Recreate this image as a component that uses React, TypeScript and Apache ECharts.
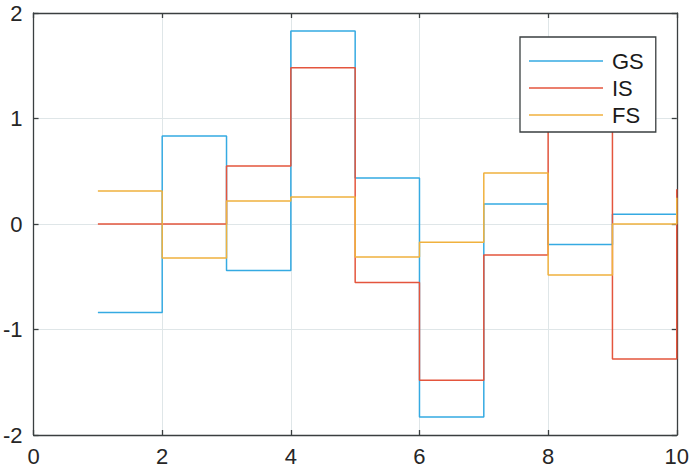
import React, { useEffect, useRef } from "react";
import * as echarts from "echarts";

const xs = [1, 2, 3, 4, 5, 6, 7, 8, 9, 10];
const gsValues = [-0.84, 0.835, -0.44, 1.83, 0.435, -1.83, 0.19, -0.195, 0.092, 0.092];
const isValues = [0.0, 0.0, 0.55, 1.48, -0.555, -1.48, -0.295, 1.28, -1.28, 0.33];
const fsValues = [0.313, -0.322, 0.218, 0.256, -0.313, -0.174, 0.483, -0.483, 0.0, 0.25];
const seriesNames = ["GS", "IS", "FS"];
const seriesColors = ["#35AAE2", "#E4553D", "#F0B13E"];
const xTicks = [0, 2, 4, 6, 8, 10];
const yTicks = [-2, -1, 0, 1, 2];

const FONT = "'Liberation Sans', Arial, Helvetica, sans-serif";
const AXIS_COLOR = "#3a3f40";
const GRID_COLOR = "#dfe6e8";

export default function App() {
  const ref = useRef<HTMLDivElement>(null);
  useEffect(() => {
    if (!ref.current) return;
    const chart = echarts.init(ref.current, null, { renderer: "svg" });
    const all = [gsValues, isValues, fsValues];
    const baseAxis = {
      type: "value" as const,
      axisLine: { show: true, onZero: false, lineStyle: { color: AXIS_COLOR, width: 1.3 } },
      axisTick: { show: true, inside: true, length: 5, lineStyle: { color: AXIS_COLOR, width: 1.3 } },
    };
    chart.setOption({
      animation: false,
      backgroundColor: "#ffffff",
      grid: { left: 33, right: 13, top: 13, bottom: 35, containLabel: false },
      xAxis: [
        {
          ...baseAxis,
          position: "bottom",
          min: xTicks[0],
          max: xTicks[xTicks.length - 1],
          interval: 2,
          axisLabel: { show: true, color: "#262626", fontSize: 22, fontFamily: FONT, margin: 10 },
          splitLine: { show: true, lineStyle: { color: GRID_COLOR, width: 1 } },
        },
        {
          ...baseAxis,
          position: "top",
          min: xTicks[0],
          max: xTicks[xTicks.length - 1],
          interval: 2,
          axisLabel: { show: false },
          splitLine: { show: false },
        },
      ],
      yAxis: [
        {
          ...baseAxis,
          position: "left",
          min: yTicks[0],
          max: yTicks[yTicks.length - 1],
          interval: 1,
          axisLabel: { show: true, color: "#262626", fontSize: 22, fontFamily: FONT, margin: 11 },
          splitLine: { show: true, lineStyle: { color: GRID_COLOR, width: 1 } },
        },
        {
          ...baseAxis,
          position: "right",
          min: yTicks[0],
          max: yTicks[yTicks.length - 1],
          interval: 1,
          axisLabel: { show: false },
          splitLine: { show: false },
        },
      ],
      legend: {
        show: true,
        orient: "vertical",
        left: 520,
        top: 37,
        width: 134,
        backgroundColor: "#ffffff",
        borderColor: AXIS_COLOR,
        borderWidth: 1.3,
        borderRadius: 0,
        padding: [13, 12, 6, 9],
        itemWidth: 74,
        itemHeight: 20,
        itemGap: 5,
        textStyle: { color: "#1a1a1a", fontSize: 22, fontFamily: FONT, padding: [0, 0, 0, 4] },
        data: seriesNames.map((n) => ({ name: n, icon: "path://M0,0 L74,0 L74,1.5 L0,1.5 Z" })),
      },
      series: seriesNames.map((name, i) => ({
        name,
        type: "line",
        step: "end",
        symbol: "none",
        color: seriesColors[i],
        lineStyle: { color: seriesColors[i], width: 1.5 },
        data: xs.map((x, j) => [x, all[i][j]]),
        z: 2 + i,
      })),
    });
    return () => chart.dispose();
  }, []);
  return <div ref={ref} style={{ width: 692, height: 470, position: "absolute", left: 0, top: 0 }} />;
}
